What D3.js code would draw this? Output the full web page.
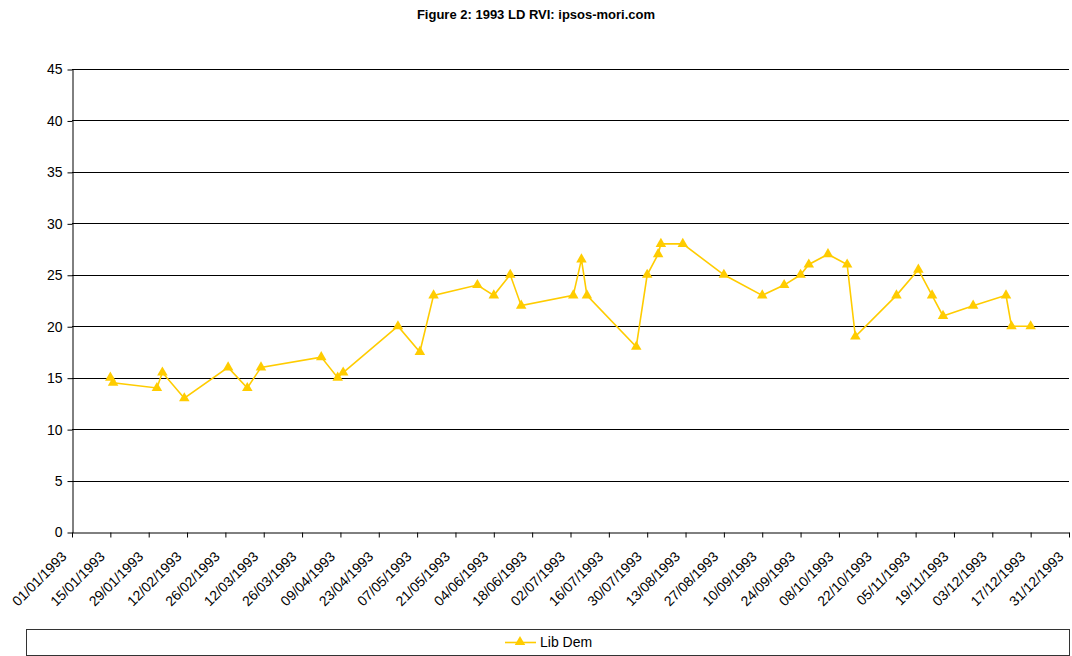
<!DOCTYPE html>
<html>
<head>
<meta charset="utf-8">
<script src="https://cdn.jsdelivr.net/npm/d3@7"></script>
<style>
  body { margin: 0; background: #fff; }
  svg { display: block; font-family: "Liberation Sans", Arial, sans-serif; }
</style>
</head>
<body>
<svg id="chart" width="1072" height="656"></svg>
<script>
// poll dates and Lib Dem shares
var pollDates = ["1993-01-15","1993-01-16","1993-02-01","1993-02-03","1993-02-11","1993-02-27",
  "1993-03-06","1993-03-11","1993-04-02","1993-04-08","1993-04-10","1993-04-30","1993-05-08",
  "1993-05-13","1993-05-29","1993-06-04","1993-06-10","1993-06-14","1993-07-03","1993-07-06",
  "1993-07-08","1993-07-26","1993-07-30","1993-08-03","1993-08-04","1993-08-12","1993-08-27",
  "1993-09-10","1993-09-18","1993-09-24","1993-09-27","1993-10-04","1993-10-11","1993-10-14",
  "1993-10-29","1993-11-06","1993-11-11","1993-11-15","1993-11-26","1993-12-08","1993-12-10",
  "1993-12-17"];
var libDem = [15,14.5,14,15.5,13,16,14,16,17,15,15.5,20,17.5,23,24,23,25,22,23,26.5,23,18,25,27,28,28,25,
  23,24,25,26,27,26,19,23,25.5,23,21,22,23,20,20];
var yTicks = [0,5,10,15,20,25,30,35,40,45];
var seriesName = "Lib Dem";
var title = "Figure 2: 1993 LD RVI: ipsos-mori.com";

var parse = d3.timeParse("%Y-%m-%d");
var fmt = d3.timeFormat("%d/%m/%Y");
var startDate = new Date(1993,0,1), endDate = new Date(1993,11,31);
// one tick every 14 days from 1 Jan to 31 Dec
var xTicks = d3.timeDay.range(startDate, new Date(1994,0,1), 14);

var data = pollDates.map(function(d,i){ return {date: parse(d), value: libDem[i]}; });

var svg = d3.select("#chart");
var plotLeft = 72, plotRight = 1069, plotTop = 69, plotBottom = 532;
var lineColor = "#FFCC00";

var x = d3.scaleTime().domain([startDate, endDate]).range([plotLeft, plotRight]);
var y = d3.scaleLinear().domain([0,45]).range([plotBottom, plotTop]);

// title
svg.append("text")
  .attr("x", 536).attr("y", 19)
  .attr("text-anchor", "middle")
  .style("font-size", "13px").style("font-weight", "bold")
  .text(title);

// gridlines
svg.append("g").selectAll("line")
  .data(yTicks.filter(function(d){ return d > 0; }))
  .join("line")
  .attr("x1", plotLeft).attr("x2", plotRight)
  .attr("y1", function(d){ return Math.round(y(d)) + 0.5; })
  .attr("y2", function(d){ return Math.round(y(d)) + 0.5; })
  .attr("stroke", "#000").attr("stroke-width", 1);

// y axis
var yAxis = svg.append("g")
  .attr("transform", "translate(" + (plotLeft + 0.5) + ",0.5)")
  .call(d3.axisLeft(y).tickValues(yTicks).tickSize(5).tickSizeOuter(0));
yAxis.selectAll("text").style("font-size", "14px").attr("fill", "#000").attr("dx", "-2");
yAxis.select(".domain").attr("stroke", "#000");

// x axis
var xAxis = svg.append("g")
  .attr("transform", "translate(0," + (plotBottom + 0.5) + ")")
  .call(d3.axisBottom(x).tickValues(xTicks).tickFormat(fmt).tickSize(5).tickSizeOuter(0));
xAxis.select(".domain").attr("stroke", "#000");
xAxis.selectAll("text")
  .style("font-size", "14px").attr("fill", "#000")
  .attr("text-anchor", "end")
  .attr("dy", null).attr("y", 0)
  .attr("transform", "translate(-5,25) rotate(-45)");

// series line
svg.append("path")
  .datum(data)
  .attr("fill", "none")
  .attr("stroke", lineColor)
  .attr("stroke-width", 1.6)
  .attr("d", d3.line().x(function(d){ return x(d.date); }).y(function(d){ return y(d.value); }));

var tri = d3.symbol().type(d3.symbolTriangle).size(48);
svg.append("g").selectAll("path")
  .data(data)
  .join("path")
  .attr("transform", function(d){ return "translate(" + x(d.date) + "," + y(d.value) + ")"; })
  .attr("d", tri)
  .attr("fill", lineColor);

// legend
var lg = svg.append("g");
lg.append("rect")
  .attr("x", 26.5).attr("y", 629.5).attr("width", 1043).attr("height", 26)
  .attr("fill", "#fff").attr("stroke", "#333").attr("stroke-width", 1);
lg.append("line")
  .attr("x1", 505).attr("x2", 536).attr("y1", 642.5).attr("y2", 642.5)
  .attr("stroke", lineColor).attr("stroke-width", 1.6);
lg.append("path")
  .attr("transform", "translate(520,642)")
  .attr("d", tri).attr("fill", lineColor);
lg.append("text")
  .attr("x", 540).attr("y", 647)
  .style("font-size", "14px")
  .text(seriesName);
</script>
</body>
</html>
